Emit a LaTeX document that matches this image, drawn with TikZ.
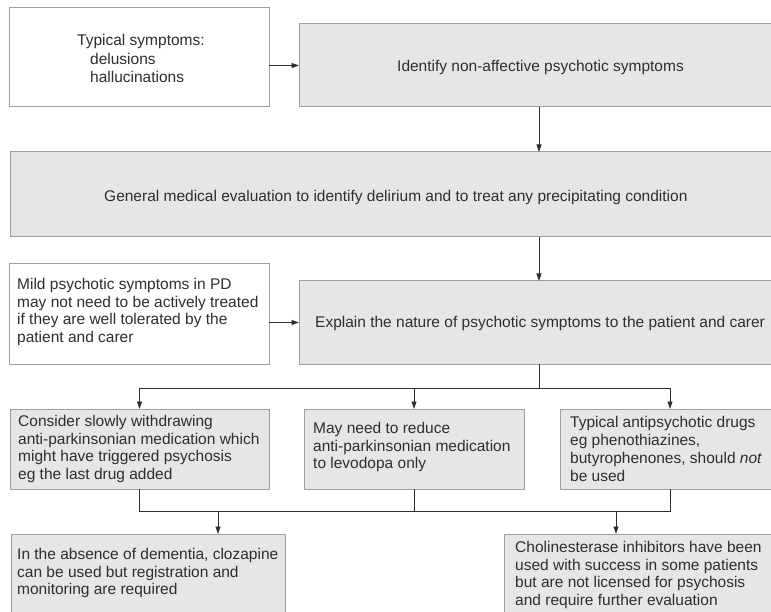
\documentclass[tikz,border=0pt]{standalone}
\usepackage{fontspec}
\setmainfont{Liberation Sans}
\usetikzlibrary{arrows.meta}
\definecolor{boxfill}{HTML}{E6E6E6}
\definecolor{boxline}{HTML}{A0A0A0}
\definecolor{ink}{HTML}{2E2E2E}
\begin{document}
\begin{tikzpicture}[x=1pt,y=-1pt,
  box/.style={draw=boxline, line width=1pt, fill=boxfill, inner sep=0pt, outer sep=0pt, anchor=north west},
  wbox/.style={box, fill=white},
  txt/.style={text=ink, font=\fontsize{15.5}{17.8}\selectfont, align=left, inner sep=0pt, anchor=west},
  arr/.style={draw=ink, line width=0.9pt, -{Triangle[length=7.5pt,width=5pt]}},
  ln/.style={draw=ink, line width=0.9pt}]
\useasboundingbox (0,0) rectangle (771,612);
% boxes
\node[wbox, minimum width=260pt, minimum height=99pt] (A) at (9,8) {};
\node[box, minimum width=480pt, minimum height=83pt] (B) at (299,24) {};
\node[box, minimum width=780pt, minimum height=85pt] (C) at (10,152) {};
\node[wbox, minimum width=260pt, minimum height=100pt] (D) at (9,264) {};
\node[box, minimum width=480pt, minimum height=83pt] (E) at (299,281) {};
\node[box, minimum width=259pt, minimum height=80pt] (F) at (10,409) {};
\node[box, minimum width=220pt, minimum height=80pt] (G) at (304,409) {};
\node[box, minimum width=220pt, minimum height=80pt] (I) at (560,409) {};
\node[box, minimum width=274pt, minimum height=90pt] (H) at (11,534) {};
\node[box, minimum width=280pt, minimum height=90pt] (J) at (504,534) {};
% texts
\node[txt, font=\fontsize{15.5}{18.5}\selectfont] (tA) at (77,58.5) {Typical symptoms:\\\hspace*{13pt}delusions\\\hspace*{13pt}hallucinations};
\node[txt] (tB) at (397,67) {Identify non-affective psychotic symptoms};
\node[txt] (tC) at (104,197) {General medical evaluation to identify delirium and to treat any precipitating condition};
\node[txt] (tD) at (17,312) {Mild psychotic symptoms in PD\\may not need to be actively treated\\if they are well tolerated by the\\patient and carer};
\node[txt] (tE) at (315,323) {Explain the nature of psychotic symptoms to the patient and carer};
\node[txt] (tF) at (18,449) {Consider slowly withdrawing\\anti-parkinsonian medication which\\might have triggered psychosis\\eg the last drug added};
\node[txt] (tG) at (313,447) {May need to reduce\\anti-parkinsonian medication\\to levodopa only};
\node[txt] (tI) at (570,449) {Typical antipsychotic drugs\\eg phenothiazines,\\butyrophenones, should \textit{not}\\be used};
\node[txt] (tH) at (17,573) {In the absence of dementia, clozapine\\can be used but registration and\\monitoring are required};
\node[txt] (tJ) at (515,575) {Cholinesterase inhibitors have been\\used with success in some patients\\but are not licensed for psychosis\\and require further evaluation};
% connectors
\coordinate (mx) at (539,0);
\coordinate (br) at (539,388);
\coordinate (mg) at (0,511);
\coordinate (m1) at (218,511);
\coordinate (m2) at (616,511);
\draw[arr] (A.east |- B.west) -- (B.west);
\draw[arr] (B.south -| mx) -- (C.north -| mx);
\draw[arr] (C.south -| mx) -- (E.north -| mx);
\draw[arr] (D.east |- E.west) -- (E.west);
\draw[ln] (E.south -| mx) -- (br);
\draw[arr] (br) -| (F.north);
\draw[arr] (br) -| (G.north);
\draw[arr] (br) -| (I.north);
\draw[ln] (F.south) -- (F.south |- mg) -- (I.south |- mg) -- (I.south);
\draw[ln] (G.south) -- (G.south |- mg);
\draw[arr] (m1) -- (H.north -| m1);
\draw[arr] (m2) -- (J.north -| m2);
\end{tikzpicture}
\end{document}
